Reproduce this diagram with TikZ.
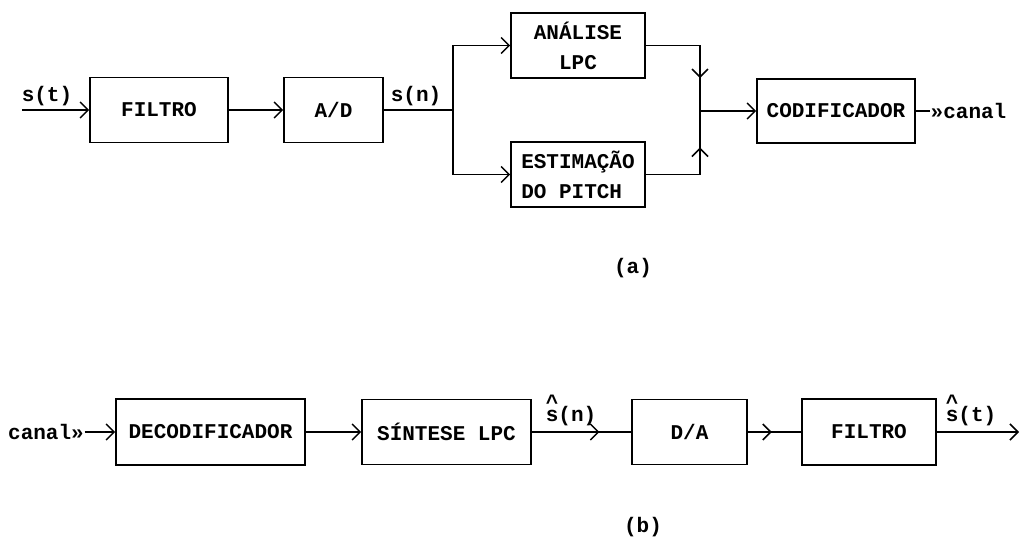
\documentclass[tikz,border=0pt]{standalone}
\usepackage{fontspec}
\setmonofont{Liberation Mono}
\usetikzlibrary{arrows.meta,decorations.markings,positioning}

\begin{document}
\begin{tikzpicture}[x=1pt, y=-1pt, >={Straight Barb[length=8pt,width=16pt,line width=1.5pt]}, line width=1.4pt,
		bloco/.style={draw, line width=1.6pt, inner sep=0pt, font=\ttfamily\bfseries\fontsize{21}{30}\selectfont},
		rotulo/.style={inner sep=0pt, font=\ttfamily\bfseries\fontsize{21}{24}\selectfont},
		meio/.style={postaction={decorate}, decoration={markings, mark=at position #1 with {\arrow{>}}}}]
		\useasboundingbox (0,0) rectangle (1036,538);

		% 1. Diagrama (a): analise e codificacao
		\node[bloco, minimum width=138pt, minimum height=65pt] (filtroA) at (159,110) {FILTRO};
		\node[bloco, minimum width=99pt, minimum height=65pt] (ad) at (333.5,110) {A/D};
		\node[bloco, minimum width=134pt, minimum height=65pt, align=center] (analise) at (578,45.5) {ANÁLISE\\LPC};
		\node[bloco, minimum width=134pt, minimum height=65pt, align=left] (estimacao) at (578,174.5) {ESTIMAÇÃO\\DO PITCH};
		\node[bloco, minimum width=158pt, minimum height=64pt] (codificador) at (836,111) {CODIFICADOR};

		% pontos de ramificacao
		\coordinate (entrada) at (22,110);
		\coordinate (ramo) at (453,110);
		\coordinate (juncao) at (700,111);

		% rotulos
		\node[rotulo, anchor=base] (st) at (47,101) {s(t)};
		\node[rotulo, anchor=base] (sn) at (416,101) {s(n)};
		\node[rotulo, anchor=west] (canalA) at (930,111) {»canal};
		\node[rotulo] (legA) at (633,268) {(a)};

		% conexoes
		\draw[->] (entrada) -- (filtroA);
		\draw[->] (filtroA) -- (ad);
		\draw (ad) -- (ramo);
		\draw[->] (ramo) |- (analise);
		\draw[->] (ramo) |- (estimacao);
		\draw[meio=0.725] (analise) -| (juncao);
		\draw[meio=0.69] (estimacao) -| (juncao);
		\draw[->] (juncao) -- (codificador);
		\draw (codificador) -- (canalA);

		% 2. Diagrama (b): decodificacao e sintese
		\node[bloco, minimum width=189pt, minimum height=66pt] (decod) at (210.5,432) {DECODIFICADOR};
		\node[bloco, minimum width=169pt, minimum height=65pt] (sintese) at (446.5,432) {SÍNTESE LPC};
		\node[bloco, minimum width=115pt, minimum height=65pt] (da) at (689.5,432) {D/A};
		\node[bloco, minimum width=134pt, minimum height=66pt] (filtroB) at (869,432) {FILTRO};

		\coordinate (saida) at (1019,432);

		% rotulos
		\node[rotulo] (canalB) at (46,432) {canal»};
		\node[rotulo, anchor=base] (snh) at (571,421) {\rlap{\raisebox{0.55em}{\^{}}}s(n)};
		\node[rotulo, anchor=base] (sth) at (971,421) {\rlap{\raisebox{0.55em}{\^{}}}s(t)};
		\node[rotulo] (legB) at (643,527) {(b)};

		% conexoes
		\draw[->] (canalB) -- (decod);
		\draw[->] (decod) -- (sintese);
		\draw[meio=0.68] (sintese) -- (da);
		\draw[meio=0.45] (da) -- (filtroB);
		\draw[->] (filtroB) -- (saida);
	\end{tikzpicture}
\end{document}
